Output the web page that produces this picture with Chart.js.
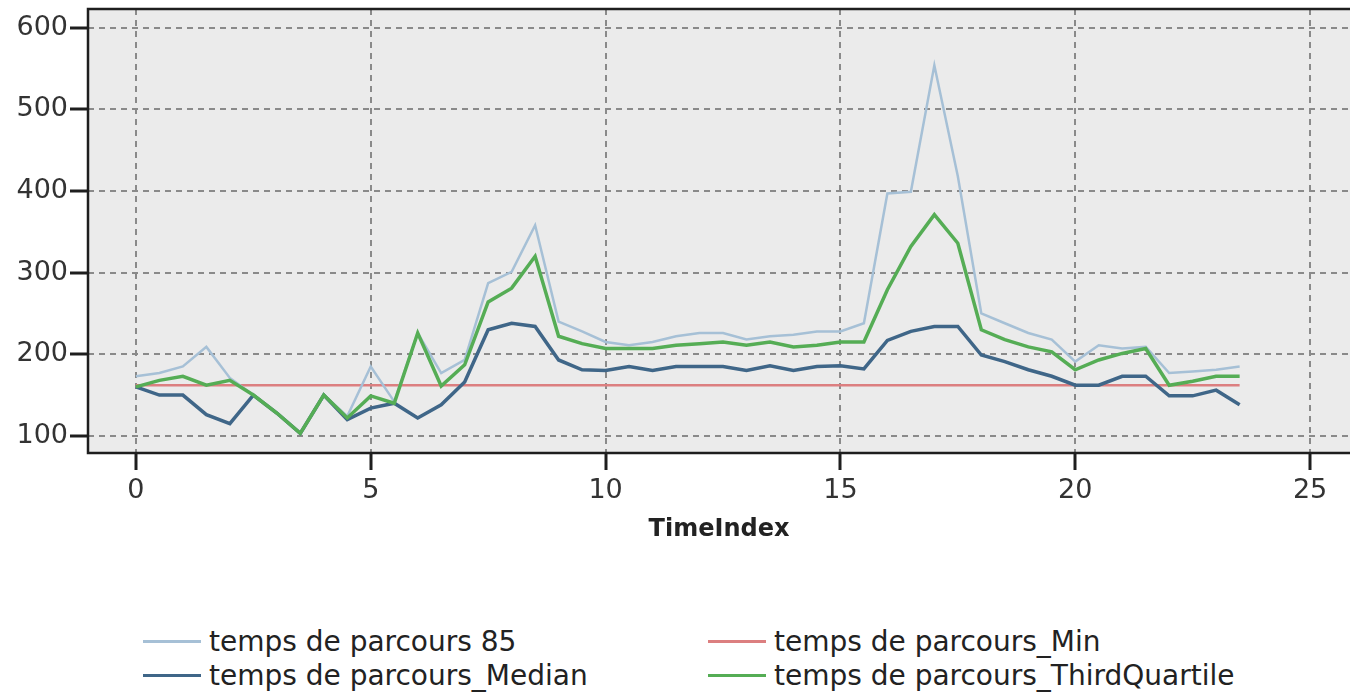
<!DOCTYPE html>
<html lang="fr">
<head>
<meta charset="UTF-8">
<title>Temps de parcours</title>
<script src="https://cdn.jsdelivr.net/npm/chart.js"></script>
<style>
    body {
        margin: 0;
        background: #ffffff;
        font-family: "DejaVu Sans", sans-serif;
    }
    .page {
        position: relative;
        width: 1350px;
        height: 697px;
        overflow: hidden;
    }
    .chart-box {
        position: absolute;
        left: 0;
        top: 0;
        width: 1350px;
        height: 544px;
    }
    /* legende en HTML, deux colonnes */
    .legend-item {
        position: absolute;
        display: flex;
        align-items: center;
        height: 34px;
        font-size: 28px;
        color: #222;
        white-space: nowrap;
    }
    .legend-item .swatch {
        width: 58px;
        height: 3px;
        margin-right: 8px;
    }
</style>
</head>
<body>
<div class="page">
    <div class="chart-box"><canvas id="timeChart"></canvas></div>
    <div id="legend"></div>
</div>
<script>
    // index de temps (demi-heures)
    const timeIndex = [0, 0.5, 1, 1.5, 2, 2.5, 3, 3.5, 4, 4.5, 5, 5.5, 6, 6.5, 7, 7.5,
        8, 8.5, 9, 9.5, 10, 10.5, 11, 11.5, 12, 12.5, 13, 13.5, 14, 14.5, 15, 15.5,
        16, 16.5, 17, 17.5, 18, 18.5, 19, 19.5, 20, 20.5, 21, 21.5, 22, 22.5, 23, 23.5];

    const temps85 = [173, 177, 185, 209, 171, 150, 128, 103, 150, 124, 185, 142, 226, 177, 193, 287,
        301, 358, 240, 228, 215, 211, 215, 222, 226, 226, 218, 222, 224, 228, 228, 238,
        397, 399, 554, 418, 250, 238, 226, 218, 191, 211, 207, 209, 177, 179, 181, 185];

    const tempsMin = [162, 162, 162, 162, 162, 162, 162, 162, 162, 162, 162, 162, 162, 162, 162, 162,
        162, 162, 162, 162, 162, 162, 162, 162, 162, 162, 162, 162, 162, 162, 162, 162,
        162, 162, 162, 162, 162, 162, 162, 162, 162, 162, 162, 162, 162, 162, 162, 162];

    const tempsMedian = [160, 150, 150, 126, 115, 150, 128, 103, 150, 120, 134, 140, 122, 138, 166, 230,
        238, 234, 193, 181, 180, 185, 180, 185, 185, 185, 180, 186, 180, 185, 186, 182,
        217, 228, 234, 234, 199, 191, 181, 173, 162, 162, 173, 173, 149, 149, 156, 138];

    const tempsThirdQuartile = [160, 168, 173, 162, 168, 150, 128, 103, 150, 122, 149, 140, 226, 161, 187, 264,
        281, 320, 222, 213, 207, 207, 207, 211, 213, 215, 211, 215, 209, 211, 215, 215,
        279, 332, 371, 336, 230, 218, 209, 203, 181, 193, 201, 207, 162, 167, 173, 173];

    const xTicks = [0, 5, 10, 15, 20, 25];
    const yTicks = [100, 200, 300, 400, 500, 600];

    const seriesNames = ['temps de parcours 85', 'temps de parcours_Min',
        'temps de parcours_Median', 'temps de parcours_ThirdQuartile'];
    const seriesColors = ['#a6c0d6', '#dc7f80', '#3f6688', '#55ad55'];

    function toPoints(values) {
        return values.map((v, i) => ({ x: timeIndex[i], y: v }));
    }

    // fond gris et cadre de la zone de tracé
    const plotFrame = {
        id: 'plotFrame',
        beforeDraw(chart) {
            const { ctx, chartArea: a } = chart;
            ctx.save();
            ctx.fillStyle = '#ebebeb';
            ctx.fillRect(a.left, a.top, a.right - a.left, a.bottom - a.top);
            ctx.restore();
        },
        afterDraw(chart) {
            const { ctx, chartArea: a } = chart;
            ctx.save();
            ctx.strokeStyle = '#1e1e1e';
            ctx.lineWidth = 2.5;
            ctx.beginPath();
            ctx.moveTo(a.right + 2, a.top);
            ctx.lineTo(a.left, a.top);
            ctx.lineTo(a.left, a.bottom);
            ctx.lineTo(a.right + 2, a.bottom);
            ctx.stroke();
            ctx.restore();
        }
    };

    const tickFont = { family: 'DejaVu Sans', size: 27 };

    const commonGrid = {
        color: '#8a8a8a',
        lineWidth: 2,
        tickColor: '#1e1e1e',
        tickWidth: 3,
        tickBorderDash: []
    };

    const ds = [
        { i: 3, width: 3.5, order: 0 },
        { i: 2, width: 3.5, order: 1 },
        { i: 0, width: 2.5, order: 2 },
        { i: 1, width: 2.5, order: 3 }
    ];
    const allValues = [temps85, tempsMin, tempsMedian, tempsThirdQuartile];

    const ctx = document.getElementById('timeChart').getContext('2d');
    const chart = new Chart(ctx, {
        type: 'line',
        data: {
            datasets: ds.map(d => ({
                label: seriesNames[d.i],
                data: toPoints(allValues[d.i]),
                borderColor: seriesColors[d.i],
                backgroundColor: seriesColors[d.i],
                borderWidth: d.width,
                pointRadius: 0,
                tension: 0,
                order: d.order
            }))
        },
        options: {
            responsive: true,
            maintainAspectRatio: false,
            animation: false,
            layout: { padding: { top: 9, right: 0, left: 0, bottom: 0 } },
            plugins: {
                legend: { display: false },
                tooltip: { enabled: false }
            },
            scales: {
                x: {
                    type: 'linear',
                    min: -1.02,
                    max: 25.85,
                    afterBuildTicks: s => { s.ticks = xTicks.map(v => ({ value: v })); },
                    afterFit: s => { s.height = 91; s.paddingLeft = 0; s.paddingRight = 0; },
                    grid: Object.assign({ tickLength: 17 }, commonGrid),
                    border: { display: false, dash: [6, 5] },
                    ticks: { font: tickFont, color: '#333', padding: 5, maxRotation: 0 },
                    title: {
                        display: true,
                        text: 'TimeIndex',
                        font: { family: 'DejaVu Sans', size: 24, weight: 'bold' },
                        color: '#222',
                        padding: 0
                    }
                },
                y: {
                    min: 79,
                    max: 623,
                    afterBuildTicks: s => { s.ticks = yTicks.map(v => ({ value: v })); },
                    afterFit: s => { s.width = 88; s.paddingTop = 0; s.paddingBottom = 0; },
                    grid: Object.assign({ tickLength: 18 }, commonGrid),
                    border: { display: false, dash: [6, 5] },
                    ticks: { font: tickFont, color: '#333', padding: 2 }
                }
            }
        },
        plugins: [plotFrame]
    });

    // légende sur deux colonnes
    const legendSpots = [
        { left: 143, top: 624 }, { left: 708, top: 624 },
        { left: 143, top: 658 }, { left: 708, top: 658 }
    ];
    const legend = document.getElementById('legend');
    seriesNames.forEach((name, i) => {
        const item = document.createElement('div');
        item.className = 'legend-item';
        item.style.left = legendSpots[i].left + 'px';
        item.style.top = legendSpots[i].top + 'px';
        const sw = document.createElement('span');
        sw.className = 'swatch';
        sw.style.background = seriesColors[i];
        const txt = document.createElement('span');
        txt.textContent = name;
        item.appendChild(sw);
        item.appendChild(txt);
        legend.appendChild(item);
    });
</script>
</body>
</html>
